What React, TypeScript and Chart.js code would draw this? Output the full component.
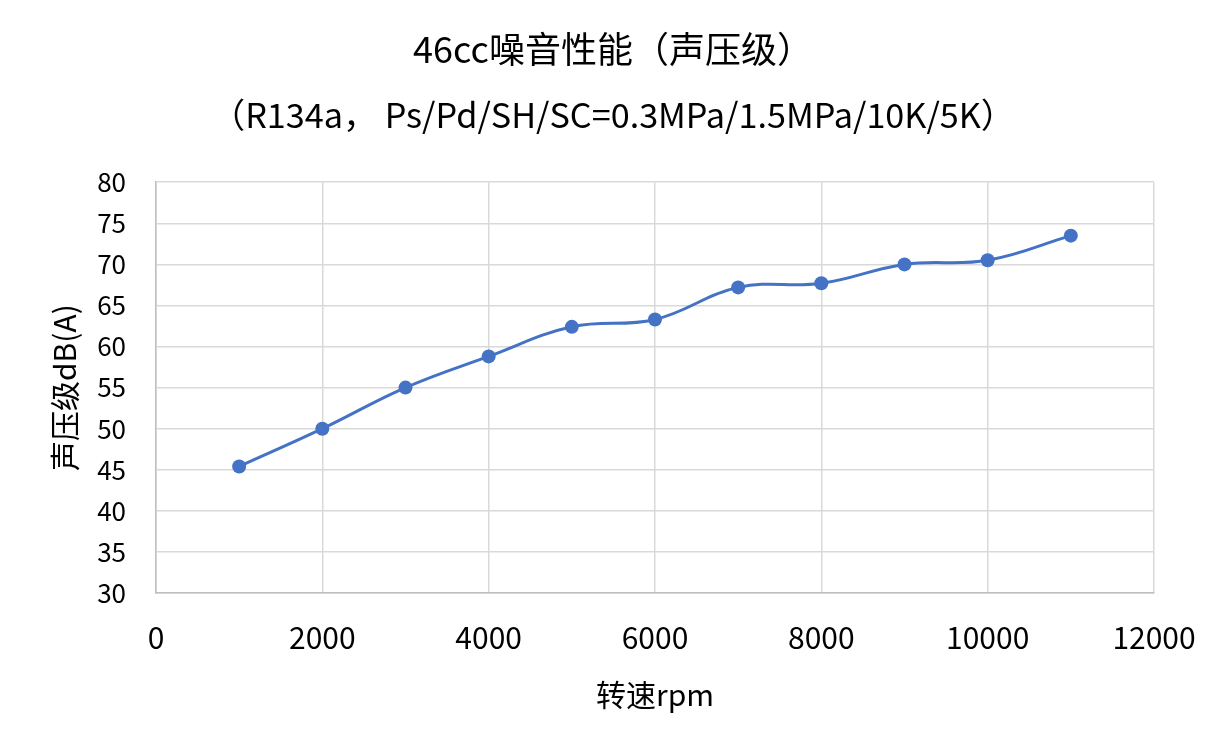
import React, { useEffect, useRef } from "react";
import { Chart, registerables } from "chart.js";

Chart.register(...registerables);

const titleText = "46cc噪音性能（声压级）";
const subtitleText = "（R134a， Ps/Pd/SH/SC=0.3MPa/1.5MPa/10K/5K）";
const xAxisTitle = "转速rpm";
const yAxisTitle = "声压级dB(A)";
const speeds = [1000, 2000, 3000, 4000, 5000, 6000, 7000, 8000, 9000, 10000, 11000];
const spl = [45.4, 50.0, 55.0, 58.8, 62.4, 63.3, 67.2, 67.7, 70.0, 70.5, 73.5];

const FONT = "'Noto Sans CJK SC', 'Noto Sans', sans-serif";

export default function App() {
  const ref = useRef<HTMLCanvasElement | null>(null);

  useEffect(() => {
    if (!ref.current) return;
    const chart = new Chart(ref.current, {
      type: "line",
      data: {
        datasets: [
          {
            data: speeds.map((x, i) => ({ x, y: spl[i] })),
            borderColor: "#4472C4",
            backgroundColor: "#4472C4",
            borderWidth: 3,
            pointRadius: 7,
            pointBorderWidth: 0,
            pointBackgroundColor: "#4472C4",
            tension: 0.4,
            fill: false,
          },
        ],
      },
      options: {
        animation: false,
        responsive: true,
        maintainAspectRatio: false,
        layout: { padding: { left: 0, right: 0, top: 0, bottom: 0 } },
        plugins: {
          legend: { display: false },
          tooltip: { enabled: false },
          title: {
            display: true,
            text: titleText,
            color: "#000",
            font: { family: FONT, size: 36, weight: "normal", lineHeight: 1.2 },
            padding: { top: 28, bottom: 0 },
          },
          subtitle: {
            display: true,
            text: subtitleText,
            color: "#000",
            font: { family: FONT, size: 34.2, weight: "normal", lineHeight: 1.2 },
            padding: { top: 23, bottom: 47 },
          },
        },
        scales: {
          x: {
            type: "linear",
            min: 0,
            max: 12000,
            ticks: {
              stepSize: 2000,
              color: "#000",
              font: { family: FONT, size: 30 },
              padding: 27,
              maxRotation: 0,
              callback: (v: any) => String(v),
            },
            grid: { color: "#d9d9d9", lineWidth: 1.5, drawTicks: false },
            border: { color: "#bfbfbf", width: 1.5 },
            title: {
              display: true,
              text: xAxisTitle,
              color: "#000",
              font: { family: FONT, size: 30 },
              padding: { top: 0, bottom: 37 },
            },
            afterFit: (scale: any) => {
              scale.height = 157;
            },
          },
          y: {
            type: "linear",
            min: 30,
            max: 80,
            ticks: {
              stepSize: 5,
              color: "#000",
              font: { family: FONT, size: 26 },
              padding: 30,
            },
            grid: { color: "#d9d9d9", lineWidth: 1.5, drawTicks: false },
            border: { color: "#bfbfbf", width: 1.5 },
            title: {
              display: true,
              text: yAxisTitle,
              color: "#000",
              font: { family: FONT, size: 30 },
              padding: { top: 47, bottom: 0 },
            },
            afterFit: (scale: any) => {
              scale.width = 156;
            },
          },
          yRight: {
            type: "linear",
            position: "right",
            min: 30,
            max: 80,
            ticks: { display: false },
            grid: { display: false, drawTicks: false },
            border: { display: false },
            afterFit: (scale: any) => {
              scale.width = 72;
            },
          },
        },
      },
    });
    return () => chart.destroy();
  }, []);

  return (
    <div style={{ position: "fixed", left: 0, top: 0, width: 1226, height: 750, background: "#fff" }}>
      <canvas ref={ref} />
    </div>
  );
}
